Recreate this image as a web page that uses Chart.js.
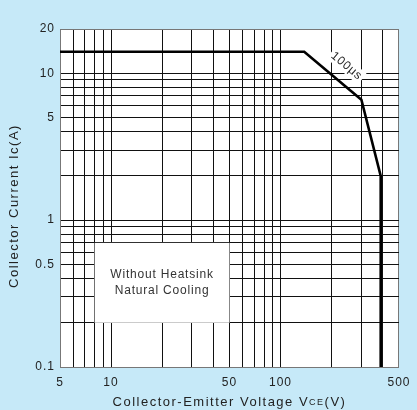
<!DOCTYPE html>
<html>
<head>
<meta charset="utf-8">
<script src="https://cdn.jsdelivr.net/npm/chart.js@4"></script>
<style>
  html, body { margin: 0; padding: 0; background: #c6e9f8; }
  #wrap { width: 417px; height: 410px; }
</style>
</head>
<body>
<div id="wrap"><canvas id="soa"></canvas></div>
<script>
// safe operating area curve, Vce (V) against Ic (A):
let vce = [5, 138, 300, 390, 390];
let ic = [14, 14, 6.6, 2, 0.1];

// gridlines on each axis, and the ones that get a label:
let xGrid = [5, 6, 7, 8, 9, 10, 20, 30, 40, 50, 60, 70, 80, 90, 100, 200, 300, 400, 500];
let xLabels = [5, 10, 50, 100, 500];
let yGrid = [0.1, 0.2, 0.3, 0.4, 0.5, 0.6, 0.7, 0.8, 0.9, 1, 2, 3, 4, 5, 6, 7, 8, 9, 10, 20];
let yLabels = [0.1, 0.5, 1, 5, 10, 20];

// note box (corners in data units) and pulse label anchor:
let noteBox = { x1: 8, x2: 50, y1: 0.7, y2: 0.2 };
let noteText = ['Without Heatsink', 'Natural Cooling'];
let pulseLabel = { x: 245, y: 11.2, text: '100\u03bcs' };

const textColor = '#222';
const fontName = '"Liberation Sans", Arial, sans-serif';

// points for the chart:
let points = [];
for (let i = 0; i < vce.length; i++) {
  points.push({ x: vce[i], y: ic[i] });
}

// plugin for background, note box, label and axis titles:
const decorations = {
  id: 'decorations',
  beforeDraw(chart) {
    const ctx = chart.ctx;
    const a = chart.chartArea;
    ctx.letterSpacing = '1px';
    ctx.save();
    ctx.fillStyle = '#ffffff';
    ctx.fillRect(a.left, a.top, a.right - a.left, a.bottom - a.top);
    ctx.restore();
  },
  beforeDatasetsDraw(chart) {
    const ctx = chart.ctx;
    const xs = chart.scales.x;
    const ys = chart.scales.y;
    ctx.save();
    // white note box over the grid:
    let left = xs.getPixelForValue(noteBox.x1);
    let right = xs.getPixelForValue(noteBox.x2);
    let top = ys.getPixelForValue(noteBox.y1);
    let bottom = ys.getPixelForValue(noteBox.y2);
    ctx.fillStyle = '#ffffff';
    ctx.fillRect(left, top, right - left, bottom - top);
    ctx.fillStyle = '#333';
    ctx.font = '12px ' + fontName;
    ctx.letterSpacing = '0.8px';
    ctx.textAlign = 'center';
    ctx.textBaseline = 'middle';
    let cx = (left + right) / 2;
    let cy = (top + bottom) / 2;
    ctx.fillText(noteText[0], cx, cy - 8);
    ctx.fillText(noteText[1], cx, cy + 8);

    // rotated pulse width label with a white backing:
    let px = xs.getPixelForValue(pulseLabel.x);
    let py = ys.getPixelForValue(pulseLabel.y);
    ctx.translate(px, py);
    ctx.rotate(40 * Math.PI / 180);
    ctx.font = '12px ' + fontName;
    ctx.letterSpacing = '0.8px';
    let w = ctx.measureText(pulseLabel.text).width;
    ctx.fillStyle = '#ffffff';
    ctx.fillRect(-w / 2 - 2, -7, w + 4, 14);
    ctx.fillStyle = textColor;
    ctx.fillText(pulseLabel.text, 0, 0);
    ctx.restore();
  },
  afterDraw(chart) {
    const ctx = chart.ctx;
    const a = chart.chartArea;
    ctx.save();
    ctx.fillStyle = textColor;
    ctx.letterSpacing = '1.5px';
    ctx.textBaseline = 'middle';
    // x title, with a small "CE" subscript:
    let parts = [['Collector-Emitter Voltage V', 13], ['CE', 9], ['(V)', 13]];
    let total = 0;
    for (let p of parts) {
      ctx.font = p[1] + 'px ' + fontName;
      total += ctx.measureText(p[0]).width;
    }
    let x = (a.left + a.right) / 2 - total / 2;
    for (let p of parts) {
      ctx.font = p[1] + 'px ' + fontName;
      ctx.textAlign = 'left';
      ctx.fillText(p[0], x, 402 + (p[1] < 13 ? 1 : 0));
      x += ctx.measureText(p[0]).width;
    }
    // y title:
    ctx.font = '13px ' + fontName;
    ctx.translate(14, (a.top + a.bottom) / 2 + 8);
    ctx.rotate(-Math.PI / 2);
    ctx.textAlign = 'center';
    ctx.fillText('Collector Current Ic(A)', 0, 0);
    ctx.restore();
  }
};

function gridColor(ctx, last) {
  if (ctx.index === last) return '#777';
  return '#111';
}

const config = {
  type: 'line',
  data: {
    datasets: [{
      data: points,
      borderColor: '#000000',
      borderWidth: 2.6,
      pointRadius: 0,
      tension: 0,
      fill: false
    }]
  },
  options: {
    responsive: true,
    maintainAspectRatio: false,
    animation: false,
    layout: {
      padding: { top: 29, right: 17, left: 0, bottom: 0 }
    },
    plugins: {
      legend: { display: false },
      tooltip: { enabled: false }
    },
    scales: {
      x: {
        type: 'logarithmic',
        min: 5,
        max: 500,
        afterBuildTicks: (scale) => {
          scale.ticks = xGrid.map(v => ({ value: v }));
        },
        afterFit: (scale) => { scale.height = 43; },
        ticks: {
          autoSkip: false,
          maxRotation: 0,
          padding: 8,
          color: textColor,
          font: { family: fontName, size: 12 },
          callback: (v) => xLabels.includes(v) ? String(v) : ''
        },
        grid: {
          drawTicks: false,
          lineWidth: 1,
          color: (ctx) => gridColor(ctx, xGrid.length - 1)
        },
        border: { display: true, color: '#777', width: 1 }
      },
      y: {
        type: 'logarithmic',
        min: 0.1,
        max: 20,
        afterBuildTicks: (scale) => {
          scale.ticks = yGrid.map(v => ({ value: v }));
        },
        afterFit: (scale) => { scale.width = 60; },
        ticks: {
          autoSkip: false,
          padding: 5,
          color: textColor,
          font: { family: fontName, size: 12 },
          callback: (v) => yLabels.includes(v) ? String(v) : ''
        },
        grid: {
          drawTicks: false,
          lineWidth: 1,
          color: (ctx) => gridColor(ctx, yGrid.length - 1)
        },
        border: { display: true, color: '#777', width: 1 }
      }
    }
  },
  plugins: [decorations]
};

let chart = new Chart(document.getElementById('soa'), config);
</script>
</body>
</html>
